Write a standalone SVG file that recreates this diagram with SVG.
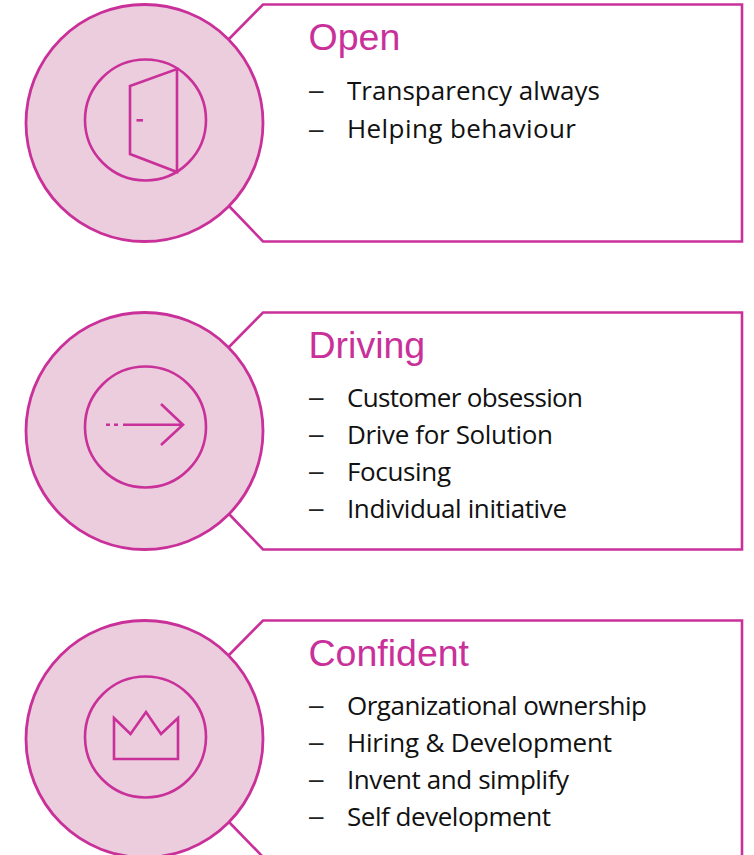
<svg xmlns="http://www.w3.org/2000/svg" width="754" height="855" viewBox="0 0 754 855">
<style>
.ln{fill:none;stroke:#c9309a;stroke-width:2.6}
.outer{fill:#ebcddd;stroke:#c9309a;stroke-width:2.8}
.inner{fill:none;stroke:#c9309a;stroke-width:2.6}
.box{fill:#fff;stroke:#c9309a;stroke-width:2.6}
.t{font-family:"Liberation Sans",Arial,sans-serif;font-size:37.5px;fill:#c9309a}
.b{font-family:"Open Sans","Noto Sans",sans-serif;font-size:26px;fill:#111}
.d{font-family:"Liberation Sans",Arial,sans-serif;font-size:26px;fill:#222}
</style>
<rect width="754" height="855" fill="#fff"/>
<g id="connectors">
<path class="box" d="M229,39 L263,4.500 H742 V241.500 H263 L229,206"/>
<path class="box" d="M229,347 L263,312.500 H742 V549.500 H263 L229,514"/>
<path class="box" d="M229,655 L263,620.500 H742 V857 H263 L229,822"/>
</g>
<g id="node-open">
<circle class="outer" cx="144.500" cy="123" r="118.500"/>
<circle class="inner" cx="145.500" cy="120" r="60.500"/>
<path class="ln" d="M130,86 L177,69 V172 L130,154 Z"/>
<path class="ln" d="M136.500,120.300 H143"/>
<text class="t" x="308.500" y="50">Open</text>
<text class="d" x="309" y="99">–</text><text class="b" x="347" y="100" textLength="253">Transparency always</text>
<text class="d" x="309" y="138">–</text><text class="b" x="347" y="138" textLength="229">Helping behaviour</text>
</g>
<g id="node-driving">
<circle class="outer" cx="144.500" cy="431" r="118.500"/>
<circle class="inner" cx="145.500" cy="427" r="60.500"/>
<path class="ln" d="M106,424.700 H110 M114,424.700 H118 M123,424.700 H182 M161,404 L183,424.700 L161,445"/>
<text class="t" x="308.500" y="358">Driving</text>
<text class="d" x="309" y="406">–</text><text class="b" x="347" y="407" textLength="236">Customer obsession</text>
<text class="d" x="309" y="443">–</text><text class="b" x="347" y="444" textLength="206">Drive for Solution</text>
<text class="d" x="309" y="480">–</text><text class="b" x="347" y="481" textLength="104">Focusing</text>
<text class="d" x="309" y="517">–</text><text class="b" x="347" y="518" textLength="220">Individual initiative</text>
</g>
<g id="node-confident">
<circle class="outer" cx="144.500" cy="739" r="118.500"/>
<circle class="inner" cx="145.500" cy="737" r="60.500"/>
<path class="ln" d="M114,718 L130.500,734 L146,712 L161,734 L178,718 V759 H114 Z"/>
<text class="t" x="308.500" y="666">Confident</text>
<text class="d" x="309" y="714">–</text><text class="b" x="347" y="715" textLength="300">Organizational ownership</text>
<text class="d" x="309" y="751">–</text><text class="b" x="347" y="752" textLength="265">Hiring &amp; Development</text>
<text class="d" x="309" y="788">–</text><text class="b" x="347" y="789" textLength="222">Invent and simplify</text>
<text class="d" x="309" y="825">–</text><text class="b" x="347" y="826" textLength="204">Self development</text>
</g>
</svg>
